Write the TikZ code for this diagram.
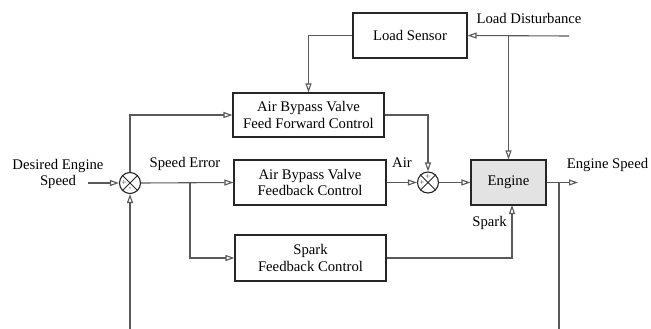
\documentclass[tikz,border=0pt]{standalone}
\usepackage{fontspec}
\setmainfont{Liberation Serif}
\usetikzlibrary{arrows.meta,calc}
\begin{document}
\begin{tikzpicture}[x=1pt,y=-1pt,
  font=\fontsize{14.7}{16.5}\selectfont,
  blk/.style={draw=black!85,line width=1.1pt,rectangle,align=center,inner sep=0pt},
  sumj/.style={draw=black!85,line width=1.1pt,circle,minimum size=21pt,inner sep=0pt},
  wire/.style={draw=black!65,line width=1.1pt},
  arr/.style={wire,-{Triangle[open,length=9pt,width=6pt]}},
  sgn/.style={font=\fontsize{9}{9}\selectfont,text=black!70,inner sep=0pt}]
\useasboundingbox (0,0) rectangle (651,329);
% blocks
\node[blk,minimum width=114pt,minimum height=45pt] (ls) at (410,35.5) {Load Sensor};
\node[blk,minimum width=151pt,minimum height=44pt] (ff) at (308.5,115) {Air Bypass Valve\\Feed Forward Control};
\node[blk,minimum width=152pt,minimum height=45pt] (fb) at (310,182.5) {Air Bypass Valve\\Feedback Control};
\node[blk,minimum width=151pt,minimum height=46pt] (sp) at (310.5,258) {Spark\\Feedback Control};
\node[blk,fill=black!11,minimum width=75pt,minimum height=45pt] (eng) at (508.5,182.5) {Engine};
% summing junctions
\node[sumj] (s1) at (130,183) {};
\node[sumj] (s2) at (428,182.5) {};
\foreach \s in {s1,s2}{
  \draw[black!85,line width=0.9pt] (\s.north west) -- (\s.south east) (\s.north east) -- (\s.south west);
}
\node[sgn] at ($(s1)+(-6,0)$) {+};
\node[sgn] at ($(s1)+(0,6)$) {-};
\node[sgn] at ($(s2)+(0,-6)$) {+};
\node[sgn] at ($(s2)+(-6,0)$) {+};
% coordinates
\coordinate (din) at (88,183);
\coordinate (ldin) at (569,36);
\coordinate (ldbr) at (508.5,36);
\coordinate (br1) at (190,183);
\coordinate (eout) at (578,182.5);
\coordinate (ebr) at (559,182.5);
\coordinate (ebot) at (559,329);
\coordinate (fbot) at (130,329);
\coordinate (spin) at (512,205);
% connectors
\draw[arr] (ldin) -- (ls.east);
\draw[arr] (ldbr) -- (eng.north);
\draw[arr] (ls.west) -| (ff.north);
\draw[arr] (din) -- (s1.west);
\draw[arr] (s1.north) |- (ff.west);
\draw[arr] (s1.east) -- (fb.west);
\draw[arr] (br1) |- (sp.west);
\draw[arr] (ff.east) -| (s2.north);
\draw[arr] (fb.east) -- (s2.west);
\draw[arr] (s2.east) -- (eng.west);
\draw[arr] (eng.east) -- (eout);
\draw[wire] (ebr) -- (ebot);
\draw[arr] (fbot) -- (s1.south);
\draw[arr] (sp.east) -| (spin);
% labels
\node at (529,18) {Load Disturbance};
\node[align=center] at (58,174) {Desired Engine\\Speed};
\node at (185,164) {Speed Error};
\node at (402,163) {Air};
\node at (607.5,165) {Engine Speed};
\node at (489.5,223) {Spark};
\end{tikzpicture}
\end{document}
